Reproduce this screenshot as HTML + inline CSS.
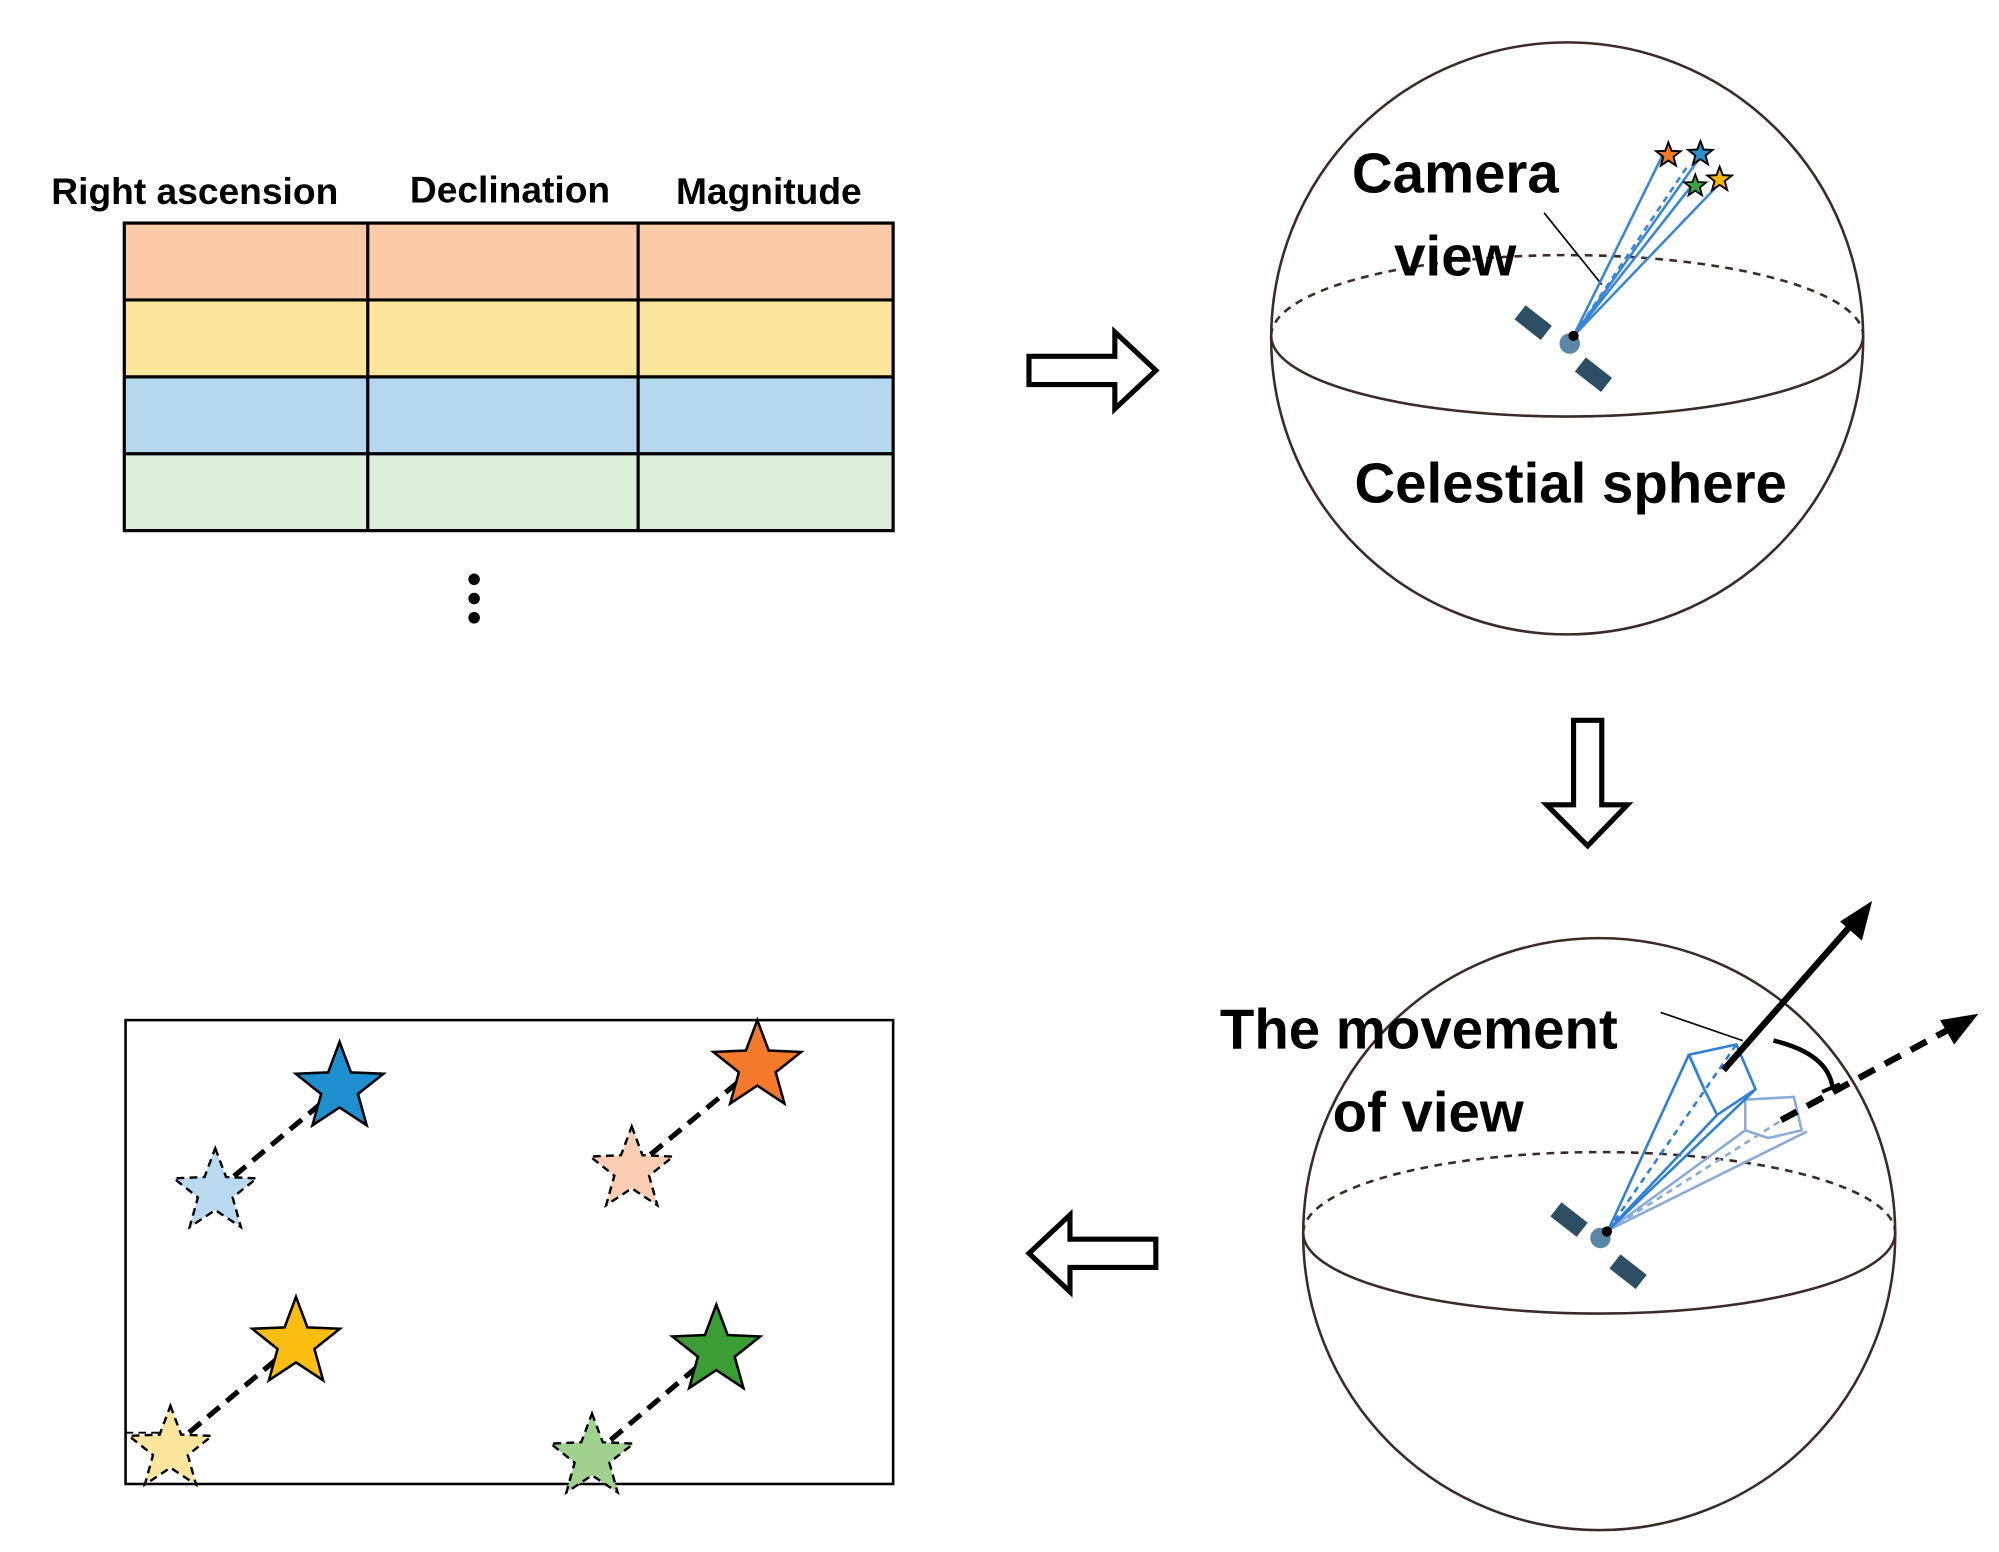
<!DOCTYPE html>
<html><head><style>
html,body{margin:0;padding:0;background:#fff;}
svg{display:block;}
text{font-family:"Liberation Sans",sans-serif;font-weight:bold;fill:#000;}
</style></head><body>
<svg width="1999" height="1552" viewBox="0 0 1560 1211" xmlns="http://www.w3.org/2000/svg">
<defs>
<polygon id="st" points="0,-1 0.247,-0.34 0.951,-0.309 0.399,0.13 0.588,0.809 0,0.42 -0.588,0.809 -0.399,0.13 -0.951,-0.309 -0.247,-0.34"/>
</defs>
<!-- headers -->
<text x="152" y="159" font-size="29" text-anchor="middle">Right ascension</text>
<text x="398" y="158" font-size="29" text-anchor="middle">Declination</text>
<text x="600" y="159" font-size="29" text-anchor="middle">Magnitude</text>
<!-- table -->
<rect x="97" y="174" width="600" height="60" fill="#fdcaa8"/>
<rect x="97" y="234" width="600" height="60" fill="#fde69c"/>
<rect x="97" y="294" width="600" height="60" fill="#b5d8ef"/>
<rect x="97" y="354" width="600" height="60" fill="#dcefd9"/>
<g stroke="#000" stroke-width="2.5" fill="none">
<rect x="97" y="174" width="600" height="240"/>
<line x1="97" y1="234" x2="697" y2="234"/><line x1="97" y1="294" x2="697" y2="294"/><line x1="97" y1="354" x2="697" y2="354"/>
<line x1="287" y1="174" x2="287" y2="414"/><line x1="498" y1="174" x2="498" y2="414"/>
</g>
<circle cx="370" cy="452" r="4.5"/><circle cx="370" cy="467" r="4.5"/><circle cx="370" cy="482" r="4.5"/>
<!-- hollow arrows -->
<g fill="#fff" stroke="#000" stroke-width="4" stroke-linejoin="miter">
<polygon points="803,278 870,278 870,259 902,289 870,319 870,300 803,300"/>
<polygon points="1228,562 1250,562 1250,628 1270,628 1239,660 1207,628 1228,628"/>
<polygon points="902,967 835,967 835,948 803,978 835,1008 835,989 902,989"/>
</g>
<!-- sphere 1 -->
<g fill="none" stroke="#3a2a2a" stroke-width="2">
<circle cx="1223" cy="264" r="231"/>
<path d="M992,262 A231,63 0 0 0 1454,262"/>
<path d="M992,262 A231,63 0 0 1 1454,262" stroke-dasharray="6,5"/>
</g>
<text x="1055" y="150" font-size="44">Camera</text>
<text x="1088" y="215" font-size="44">view</text>
<text x="1057" y="392" font-size="44">Celestial sphere</text>
<line x1="1205" y1="166" x2="1250" y2="222" stroke="#000" stroke-width="1.3"/>
<g stroke="#3a86d6" stroke-width="2" fill="none">
<line x1="1228" y1="262" x2="1298" y2="120"/><line x1="1228" y1="262" x2="1330" y2="118"/>
<line x1="1228" y1="262" x2="1345" y2="140"/><line x1="1228" y1="262" x2="1320" y2="145"/>
<line x1="1228" y1="262" x2="1318" y2="128" stroke-dasharray="5,4"/>
</g>
<g stroke="#000" stroke-width="0.15">
<use href="#st" transform="translate(1302,121) scale(10)" fill="#f07a25"/>
<use href="#st" transform="translate(1327,120) scale(10)" fill="#2b90d0"/>
<use href="#st" transform="translate(1323,145) scale(9)" fill="#3aa23a"/>
<use href="#st" transform="translate(1342,140) scale(10)" fill="#f7b800"/>
</g>
<g fill="#2d4f66">
<rect x="-20" y="-7" width="26" height="14" transform="translate(1202,256) rotate(38)"/>
<rect x="-6" y="-7" width="26" height="14" transform="translate(1238,288) rotate(38)"/>
<circle cx="1225" cy="268" r="8" fill="#5b87a6"/><circle cx="1228" cy="262" r="4" fill="#000"/>
</g>
<!-- sphere 2 -->
<g fill="none" stroke="#3a2a2a" stroke-width="2">
<circle cx="1248" cy="963" r="231"/>
<path d="M1017,962 A231,63 0 0 0 1479,962"/>
<path d="M1017,962 A231,63 0 0 1 1479,962" stroke-dasharray="6,5"/>
</g>
<text x="952" y="818" font-size="44">The movement</text>
<text x="1040" y="883" font-size="44">of view</text>
<line x1="1296" y1="790" x2="1360" y2="812" stroke="#000" stroke-width="1.3"/>
<g stroke="#8aaad8" stroke-width="2" fill="none">
<line x1="1255" y1="960" x2="1410" y2="883"/><line x1="1255" y1="960" x2="1400" y2="868" stroke-dasharray="5,4"/>
<line x1="1255" y1="960" x2="1362" y2="882"/>
<polygon points="1362,858 1400,856 1406,882 1380,888 1362,882"/>
</g>
<g stroke="#2f7fd6" stroke-width="2" fill="none">
<line x1="1255" y1="960" x2="1318" y2="823"/><line x1="1255" y1="960" x2="1370" y2="850"/>
<line x1="1255" y1="960" x2="1340" y2="870"/><line x1="1255" y1="960" x2="1355" y2="815" stroke-dasharray="5,4"/>
<polygon points="1318,823 1355,815 1370,850 1340,870 1330,850"/>
<line x1="1318" y1="823" x2="1330" y2="850"/>
</g>
<g fill="#2d4f66">
<rect x="-20" y="-7" width="26" height="14" transform="translate(1230,956) rotate(38)"/>
<rect x="-6" y="-7" width="26" height="14" transform="translate(1265,988) rotate(38)"/>
<circle cx="1249" cy="966" r="8" fill="#5b87a6"/><circle cx="1254" cy="961" r="4" fill="#000"/>
</g>
<line x1="1345" y1="835" x2="1448" y2="718" stroke="#000" stroke-width="5"/>
<polygon points="1461,703 1453,734 1436,719" fill="#000"/>
<line x1="1390" y1="874" x2="1525" y2="801" stroke="#000" stroke-width="5" stroke-dasharray="14,9"/>
<polygon points="1544,791 1525,815 1514,796" fill="#000"/>
<path d="M1384,812 Q1426,822 1430,848" fill="none" stroke="#000" stroke-width="3.5"/>
<line x1="1422" y1="852" x2="1436" y2="846" stroke="#000" stroke-width="3"/>
<!-- bottom panel -->
<rect x="98" y="796" width="599" height="362" fill="none" stroke="#000" stroke-width="2"/>
<line x1="98" y1="1118" x2="125" y2="1118" stroke="#000" stroke-width="1.5" stroke-dasharray="6,4"/>
<g stroke="#000" stroke-width="4" stroke-dasharray="12,7">
<line x1="168" y1="930" x2="265" y2="849"/>
<line x1="493" y1="913" x2="591" y2="832"/>
<line x1="133" y1="1130" x2="231" y2="1048"/>
<line x1="462" y1="1136" x2="559" y2="1054"/>
</g>
<g stroke="#000" stroke-width="0.055" stroke-dasharray="0.18,0.12">
<use href="#st" transform="translate(168,930) scale(34)" fill="#b8d9f0"/>
<use href="#st" transform="translate(493,913) scale(34)" fill="#fbcdb3"/>
<use href="#st" transform="translate(133,1131) scale(34)" fill="#fde69c"/>
<use href="#st" transform="translate(462,1137) scale(34)" fill="#9fd18f"/>
</g>
<g stroke="#000" stroke-width="0.055">
<use href="#st" transform="translate(265,849) scale(36)" fill="#1f8fd0"/>
<use href="#st" transform="translate(591,832) scale(36)" fill="#f5792a"/>
<use href="#st" transform="translate(231,1048) scale(36)" fill="#fbbd10"/>
<use href="#st" transform="translate(559,1054) scale(36)" fill="#3a9e35"/>
</g>
</svg>
</body></html>
